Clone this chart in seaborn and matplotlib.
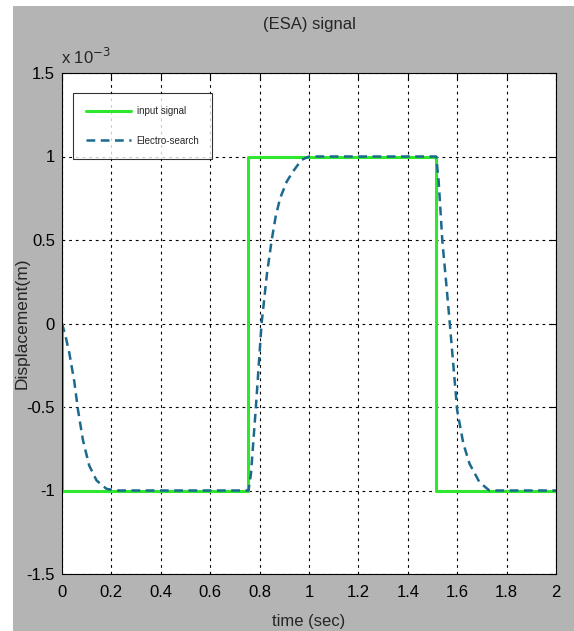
import matplotlib
matplotlib.use("Agg")
import matplotlib.pyplot as plt
import seaborn as sns
from matplotlib.patches import Rectangle

# input signal (square wave), values in units of 1e-3 m
t_input = [0.0, 0.0, 0.755, 0.755, 1.515, 1.515, 2.0]
y_input = [0.0, -1.0, -1.0, 1.0, 1.0, -1.0, -1.0]

# Electro-search response
t_esa = [0.0, 0.015, 0.03, 0.05, 0.065, 0.085, 0.11, 0.14, 0.18, 0.22,
         0.755, 0.765, 0.775, 0.785, 0.808, 0.83, 0.849, 0.865, 0.883, 0.91,
         0.935, 0.97, 1.0, 1.515, 1.525, 1.54, 1.555, 1.57, 1.585, 1.60,
         1.625, 1.65, 1.69, 1.73, 2.0]
y_esa = [0.0, -0.08, -0.18, -0.35, -0.52, -0.7, -0.85, -0.94, -0.99, -1.0,
         -1.0, -0.9, -0.7, -0.5, 0.0, 0.3, 0.5, 0.64, 0.75, 0.85,
         0.91, 0.98, 1.0, 1.0, 0.85, 0.49, 0.25, 0.0, -0.26, -0.52,
         -0.72, -0.84, -0.95, -1.0, -1.0]

x_ticks = [0, 0.2, 0.4, 0.6, 0.8, 1, 1.2, 1.4, 1.6, 1.8, 2]
y_ticks = [-1.5, -1, -0.5, 0, 0.5, 1, 1.5]

sns.set_style("white")
plt.rcParams['font.family'] = ['Liberation Sans', 'DejaVu Sans']

fig = plt.figure(figsize=(5.74, 6.31), dpi=100)
fig.patch.set_facecolor('white')
# grey window background
fig.patches.append(Rectangle((13 / 574, 0), 1, 1 - 6 / 631, transform=fig.transFigure,
                             facecolor='#b4b4b4', edgecolor='none', zorder=-10))
ax = fig.add_axes([62 / 574, 57 / 631, 494 / 574, 501 / 631])
ax.set_facecolor('white')

sns.lineplot(x=t_input, y=y_input, ax=ax, sort=False, estimator=None,
             color='#2ee82e', linewidth=2.2, label='input signal')
sns.lineplot(x=t_esa, y=y_esa, ax=ax, sort=False, estimator=None,
             color='#1b6a8e', linewidth=1.8, linestyle=(0, (3.5, 2.2)), label='Electro-search')

ax.set_xlim(0, 2)
ax.set_ylim(-1.5, 1.5)
ax.set_xticks(x_ticks)
ax.set_xticklabels(['0', '0.2', '0.4', '0.6', '0.8', '1', '1.2', '1.4', '1.6', '1.8', '2'])
ax.set_yticks(y_ticks)
ax.set_yticklabels(['-1.5', '-1', '-0.5', '0', '0.5', '1', '1.5'])
ax.tick_params(direction='in', length=5, width=0.8, top=True, right=True,
               labelsize=12, colors='black', pad=5)
ax.tick_params(axis='x', pad=8)
ax.grid(True, color='black', linestyle=(0, (2.5, 3.5)), linewidth=0.8)
for s in ax.spines.values():
    s.set_color('black')
    s.set_linewidth(0.8)

ax.set_title('(ESA) signal', fontsize=12, pad=32)
ax.set_xlabel('time (sec)', fontsize=12, labelpad=10)
ax.set_ylabel('Displacement(m)', fontsize=12.5)
ax.yaxis.set_label_coords(-0.066, 0.5)
ax.text(-0.003, 1.012, r'x 10$^{-3}$', transform=ax.transAxes, fontsize=12,
        ha='left', va='bottom')

leg = ax.legend(loc='upper left', bbox_to_anchor=(0.022, 0.96), borderaxespad=0,
                fontsize=7, frameon=True, fancybox=False, edgecolor='black',
                handlelength=4.6, borderpad=1.35, labelspacing=2.0, handletextpad=0.6)
leg.get_frame().set_linewidth(0.8)

fig.savefig('out.png', dpi=100)
